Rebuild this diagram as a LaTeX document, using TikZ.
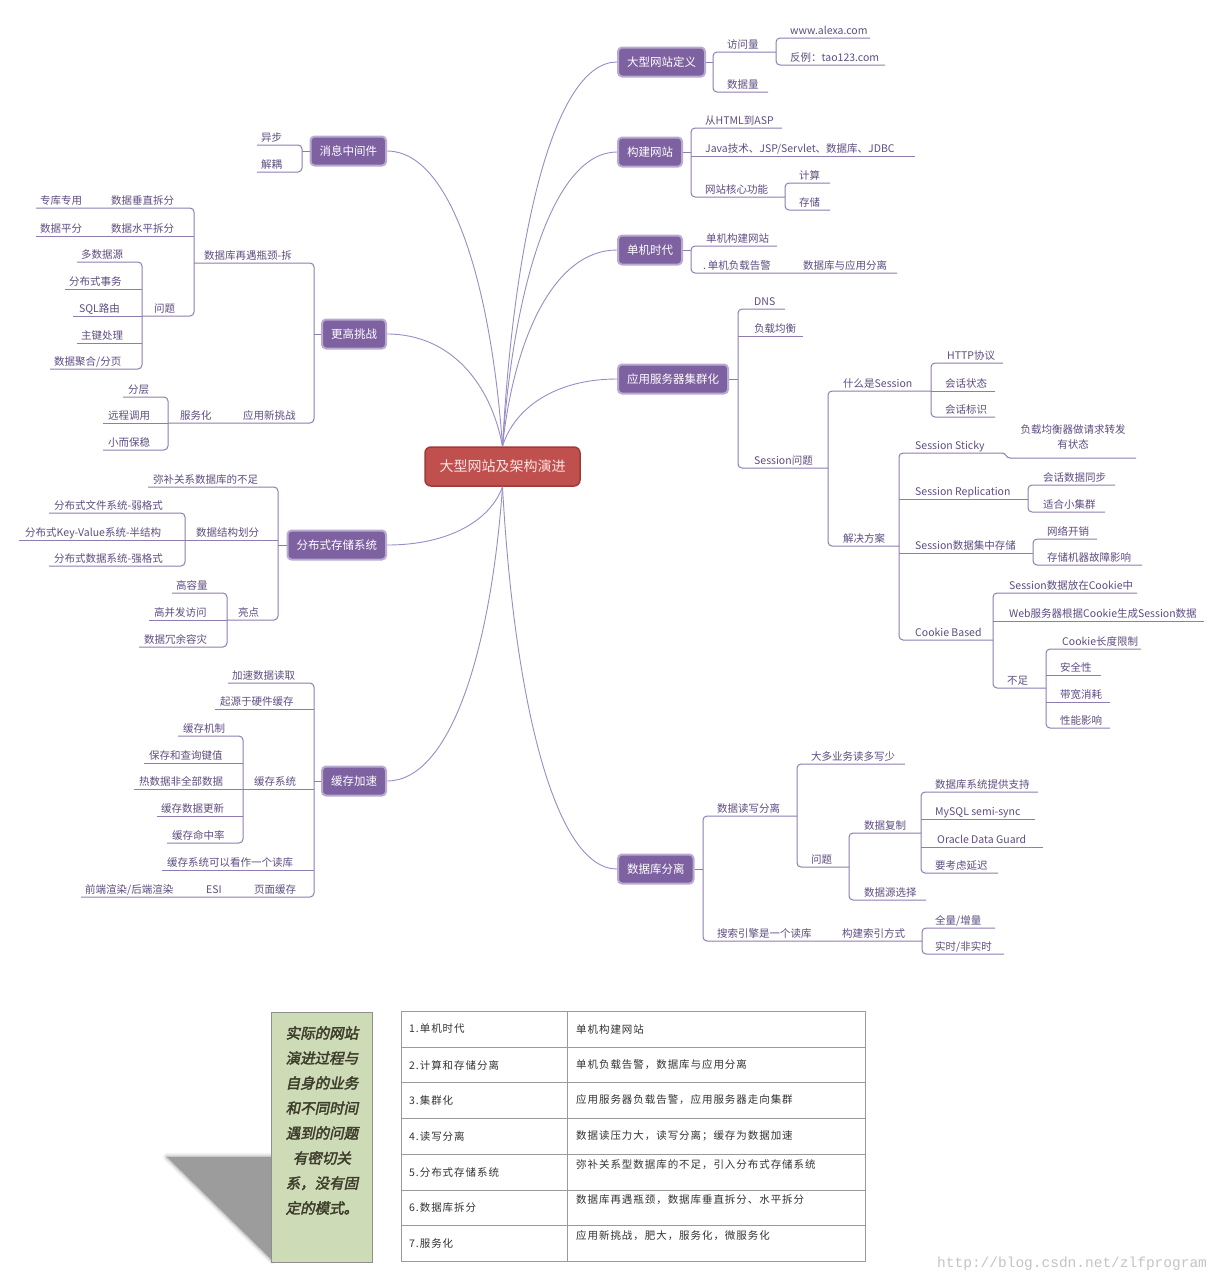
\documentclass[tikz,border=0pt]{standalone}
\usepackage{fontspec}
\setmainfont{Noto Sans CJK SC}
\newfontfamily\tblfont[LetterSpace=9]{Noto Sans CJK SC}
\newfontfamily\notefont[FakeSlant=0.2,FakeBold=2.5]{Noto Sans CJK SC}
\newfontfamily\wmfont{Liberation Mono}
\definecolor{lnc}{HTML}{8E7DB0}
\definecolor{txc}{HTML}{5E4D80}
\definecolor{cvc}{HTML}{9A8CC6}
\definecolor{mnf}{HTML}{7E61A0}
\definecolor{mnb}{HTML}{B8AAD0}
\definecolor{cnf}{HTML}{C0504D}
\definecolor{cnb}{HTML}{9E3B39}
\definecolor{cnt}{HTML}{FBE4E4}
\definecolor{tbc}{HTML}{9A9A9A}
\definecolor{tbt}{HTML}{333333}
\definecolor{gbf}{HTML}{CDDBB6}
\definecolor{gbd}{HTML}{8F8F8F}
\definecolor{ntc}{HTML}{3E3D2C}
\definecolor{wmc}{HTML}{C4C4C4}
\definecolor{shc}{HTML}{9C9C9C}
\newcounter{lbc}
\newcommand\lb[3]{\stepcounter{lbc}\node[lbl] (L\arabic{lbc}) at (#1,#2) {#3};}
\newcommand\tb[3]{\stepcounter{lbc}\node[tbx] (T\arabic{lbc}) at (#1,#2) {#3};}
\tikzset{
  br/.style={draw=lnc, line width=1pt, rounded corners=4pt},
  brs/.style={draw=lnc, line width=1pt},
  cv/.style={draw=cvc, line width=0.9pt},
  lbl/.style={anchor=base west, inner sep=0pt, yshift=3.8pt, text=txc, font=\fontsize{10.5}{12}\selectfont},
  mn/.style={fill=mnf, draw=mnb, line width=2pt, rounded corners=4pt, text=white,
    font=\fontsize{11.5}{13}\selectfont, inner xsep=9pt, minimum height=29pt},
  cn/.style={fill=cnf, draw=cnb, line width=1.5pt, rounded corners=6pt, text=cnt,
    font=\fontsize{14}{16}\selectfont, minimum width=155pt, minimum height=39pt},
  tbl/.style={draw=tbc, line width=1pt},
  tbx/.style={anchor=west, inner sep=0pt, text=tbt, font=\tblfont\fontsize{10.5}{12}\selectfont},
}
\begin{document}
\begin{tikzpicture}[x=1pt,y=-1pt]
\useasboundingbox[fill=white] (0,0) rectangle (1223,1280);

% ---------- main nodes ----------
\node[cn] (c) at (502.5,466.5) {大型网站及架构演进};
\node[mn, anchor=west] (m1) at (617,62) {大型网站定义};
\node[mn, anchor=west] (m2) at (617,152) {构建网站};
\node[mn, anchor=west] (m3) at (617,250) {单机时代};
\node[mn, anchor=west] (m4) at (617,379) {应用服务器集群化};
\node[mn, anchor=west] (m5) at (617,869) {数据库分离};
\node[mn, anchor=east] (m6) at (387,151) {消息中间件};
\node[mn, anchor=east] (m7) at (387,334) {更高挑战};
\node[mn, anchor=east] (m8) at (387,545) {分布式存储系统};
\node[mn, anchor=east] (m9) at (387,781) {缓存加速};

% ---------- curves from centre ----------
\draw[cv] (c.north) .. controls (514,235) and (554,62) .. (m1.west);
\draw[cv] (c.north) .. controls (514,284) and (554,152) .. (m2.west);
\draw[cv] (c.north) .. controls (514,338) and (554,250) .. (m3.west);
\draw[cv] (c.north) .. controls (514,409) and (554,379) .. (m4.west);
\draw[cv] (c.south) .. controls (514,697) and (554,869) .. (m5.west);
\draw[cv] (c.north) .. controls (491,284) and (451,151) .. (m6.east);
\draw[cv] (c.north) .. controls (491,384) and (451,334) .. (m7.east);
\draw[cv] (c.south) .. controls (491,519) and (451,545) .. (m8.east);
\draw[cv] (c.south) .. controls (491,649) and (451,781) .. (m9.east);

% ---------- 大型网站定义 ----------
\draw[br] (m1.east) -- (713,62);
\draw[br] (776,52) -- (713,52) -- (713,92) -- (768,92);
\draw[br] (870,38) -- (776,38) -- (776,65) -- (885,65);
\lb{727}{52}{访问量}
\lb{790}{38}{www.alexa.com}
\lb{790}{65}{反例：tao123.com}
\lb{727}{92}{数据量}

% ---------- 构建网站 ----------
\draw[br] (m2.east) -- (691,152);
\draw[br] (782,128) -- (691,128) -- (691,197) -- (785,197);
\draw[br] (691,156) -- (915,156);
\draw[br] (830,183) -- (785,183) -- (785,210) -- (830,210);
\lb{705}{128}{从HTML到ASP}
\lb{705}{156}{Java技术、JSP/Servlet、数据库、JDBC}
\lb{705}{197}{网站核心功能}
\lb{799}{183}{计算}
\lb{799}{210}{存储}

% ---------- 单机时代 ----------
\draw[br] (m3.east) -- (691,250);
\draw[br] (777,246) -- (691,246) -- (691,273) -- (897,273);
\lb{706}{246}{单机构建网站}
\lb{703}{273}{.\,单机负载告警}
\lb{803}{273}{数据库与应用分离}

% ---------- 应用服务器集群化 ----------
\draw[br] (m4.east) -- (738,379);
\draw[br] (785,309) -- (738,309) -- (738,468) -- (828,468);
\draw[br] (738,336) -- (803,336);
\draw[br] (931,391) -- (828,391) -- (828,546) -- (899,546);
\draw[br] (1003,363) -- (931,363) -- (931,417) -- (995,417);
\draw[br] (931,391) -- (995,391);
\draw[br] (1002,453) -- (899,453) -- (899,640) -- (993,640);
\draw[brs] (1002,453) .. controls (1006,453) and (1006,458) .. (1010,458) -- (1136,458);
\draw[br] (899,499) -- (1028,499);
\draw[br] (899,553) -- (1033,553);
\draw[br] (1115,485) -- (1028,485) -- (1028,512) -- (1105,512);
\draw[br] (1097,539) -- (1033,539) -- (1033,565) -- (1142,565);
\draw[br] (1137,593) -- (993,593) -- (993,688) -- (1046,688);
\draw[br] (993,621) -- (1204,621);
\draw[br] (1141,649) -- (1046,649) -- (1046,728) -- (1110,728);
\draw[br] (1046,675) -- (1101,675);
\draw[br] (1046,702) -- (1110,702);
\lb{754}{309}{DNS}
\lb{754}{336}{负载均衡}
\lb{754}{468}{Session问题}
\lb{843}{391}{什么是Session}
\lb{947}{363}{HTTP协议}
\lb{945}{391}{会话状态}
\lb{945}{417}{会话标识}
\lb{843}{546}{解决方案}
\lb{915}{453}{Session Sticky}
\node[lbl, anchor=base] (st1) at (1073,437) {负载均衡器做请求转发};
\node[lbl, anchor=base] (st2) at (1073,452) {有状态};
\lb{915}{499}{Session Replication}
\lb{1043}{485}{会话数据同步}
\lb{1043}{512}{适合小集群}
\lb{915}{553}{Session数据集中存储}
\lb{1047}{539}{网络开销}
\lb{1047}{565}{存储机器故障影响}
\lb{915}{640}{Cookie Based}
\lb{1009}{593}{Session数据放在Cookie中}
\lb{1009}{621}{Web服务器根据Cookie生成Session数据}
\lb{1007}{688}{不足}
\lb{1062}{649}{Cookie长度限制}
\lb{1060}{675}{安全性}
\lb{1060}{702}{带宽消耗}
\lb{1060}{728}{性能影响}

% ---------- 数据库分离 ----------
\draw[br] (m5.east) -- (703,869);
\draw[br] (797,816) -- (703,816) -- (703,941) -- (922,941);
\draw[br] (905,764) -- (797,764) -- (797,867) -- (849,867);
\draw[br] (921,833) -- (849,833) -- (849,900) -- (926,900);
\draw[br] (1038,792) -- (921,792) -- (921,873) -- (998,873);
\draw[br] (921,819) -- (1035,819);
\draw[br] (921,847) -- (1043,847);
\draw[br] (995,928) -- (922,928) -- (922,954) -- (1004,954);
\lb{717}{816}{数据读写分离}
\lb{811}{764}{大多业务读多写少}
\lb{811}{867}{问题}
\lb{864}{833}{数据复制}
\lb{935}{792}{数据库系统提供支持}
\lb{935}{819}{MySQL semi-sync}
\lb{937}{847}{Oracle Data Guard}
\lb{935}{873}{要考虑延迟}
\lb{864}{900}{数据源选择}
\lb{717}{941}{搜索引擎是一个读库}
\lb{842}{941}{构建索引方式}
\lb{935}{928}{全量/增量}
\lb{935}{954}{实时/非实时}

% ---------- 消息中间件 ----------
\draw[br] (m6.west) -- (302,151);
\draw[br] (257,145) -- (302,145) -- (302,172) -- (257,172);
\lb{261}{145}{异步}
\lb{261}{172}{解耦}

% ---------- 更高挑战 ----------
\draw[br] (m7.west) -- (314,334);
\draw[br] (194,263) -- (314,263) -- (314,423) -- (168,423);
\draw[br] (36,208) -- (194,208) -- (194,316) -- (142,316);
\draw[br] (194,236) -- (36,236);
\draw[br] (77,262) -- (142,262) -- (142,369) -- (50,369);
\draw[br] (142,289) -- (65,289);
\draw[br] (142,316) -- (73,316);
\draw[br] (142,343) -- (77,343);
\draw[br] (123,397) -- (168,397) -- (168,450) -- (103,450);
\draw[br] (168,423) -- (103,423);
\lb{204}{263}{数据库再遇瓶颈-拆}
\lb{111}{208}{数据垂直拆分}
\lb{40}{208}{专库专用}
\lb{111}{236}{数据水平拆分}
\lb{40}{236}{数据平分}
\lb{154}{316}{问题}
\lb{81}{262}{多数据源}
\lb{69}{289}{分布式事务}
\lb{79}{316}{SQL路由}
\lb{81}{343}{主键处理}
\lb{54}{369}{数据聚合/分页}
\lb{243}{423}{应用新挑战}
\lb{180}{423}{服务化}
\lb{128}{397}{分层}
\lb{108}{423}{远程调用}
\lb{108}{450}{小而保稳}

% ---------- 分布式存储系统 ----------
\draw[br] (m8.west) -- (278,545);
\draw[br] (148,487) -- (278,487) -- (278,620) -- (227,620);
\draw[br] (278,540) -- (185,540);
\draw[br] (49,513) -- (185,513) -- (185,566) -- (49,566);
\draw[br] (185,540) -- (19,540);
\draw[br] (172,593) -- (227,593) -- (227,647) -- (139,647);
\draw[br] (227,620) -- (149,620);
\lb{153}{487}{弥补关系数据库的不足}
\lb{196}{540}{数据结构划分}
\lb{54}{513}{分布式文件系统-弱格式}
\lb{25}{540}{分布式Key-Value系统-半结构}
\lb{54}{566}{分布式数据系统-强格式}
\lb{238}{620}{亮点}
\lb{176}{593}{高容量}
\lb{154}{620}{高并发访问}
\lb{144}{647}{数据冗余容灾}

% ---------- 缓存加速 ----------
\draw[br] (m9.west) -- (314,781);
\draw[br] (228,683) -- (314,683) -- (314,897) -- (81,897);
\draw[br] (314,709) -- (215,709);
\draw[br] (314,789) -- (243,789);
\draw[br] (314,870) -- (162,870);
\draw[br] (178,736) -- (243,736) -- (243,843) -- (167,843);
\draw[br] (243,763) -- (144,763);
\draw[br] (243,789) -- (134,789);
\draw[br] (243,816) -- (157,816);
\lb{232}{683}{加速数据读取}
\lb{220}{709}{起源于硬件缓存}
\lb{254}{789}{缓存系统}
\lb{183}{736}{缓存机制}
\lb{149}{763}{保存和查询键值}
\lb{139}{789}{热数据非全部数据}
\lb{161}{816}{缓存数据更新}
\lb{172}{843}{缓存命中率}
\lb{167}{870}{缓存系统可以看作一个读库}
\lb{254}{897}{页面缓存}
\lb{206}{897}{ESI}
\lb{85}{897}{前端渲染/后端渲染}

% ---------- note box with soft shadow ----------
\foreach \w/\o in {8/0.12,5/0.2,2.5/0.35}
  \draw[shc, line width=\w pt, draw opacity=\o, line join=round] (167,1157) -- (272,1157) -- (272,1260) -- cycle;
\fill[shc] (167,1157) -- (272,1157) -- (272,1260) -- cycle;
\node[draw=gbd, fill=gbf, line width=1pt, minimum width=101pt, minimum height=250pt, inner sep=0pt] (gb) at (321.5,1137) {};
\node[align=center, inner sep=0pt, text=ntc, font=\notefont\fontsize{14.5}{25}\selectfont] (note) at (322,1120.5)
  {实际的网站\\演进过程与\\自身的业务\\和不同时间\\遇到的问题\\有密切关\\系，没有固\\定的模式。};

% ---------- table ----------
\draw[tbl] (401,1011) rectangle (865,1261);
\foreach \yy in {1047,1082,1118,1154,1190,1225} \draw[tbl] (401,\yy) -- (865,\yy);
\draw[tbl] (567,1011) -- (567,1261);
\tb{409}{1029}{1.单机时代}
\tb{409}{1065}{2.计算和存储分离}
\tb{409}{1100}{3.集群化}
\tb{409}{1136}{4.读写分离}
\tb{409}{1172}{5.分布式存储系统}
\tb{409}{1208}{6.数据库拆分}
\tb{409}{1243}{7.服务化}
\tb{576}{1029}{单机构建网站}
\tb{576}{1065}{单机负载告警，数据库与应用分离}
\tb{576}{1100}{应用服务器负载告警，应用服务器走向集群}
\tb{576}{1136}{数据读压力大，读写分离；缓存为数据加速}
\tb{576}{1165}{弥补关系型数据库的不足，引入分布式存储系统}
\tb{576}{1200}{数据库再遇瓶颈，数据库垂直拆分、水平拆分}
\tb{576}{1236}{应用新挑战，肥大，服务化，微服务化}

% ---------- watermark ----------
\node[anchor=base west, inner sep=0pt, text=wmc, font=\wmfont\fontsize{14.5}{16}\selectfont] (wm) at (937,1267) {http://blog.csdn.net/zlfprogram};
\end{tikzpicture}
\end{document}
